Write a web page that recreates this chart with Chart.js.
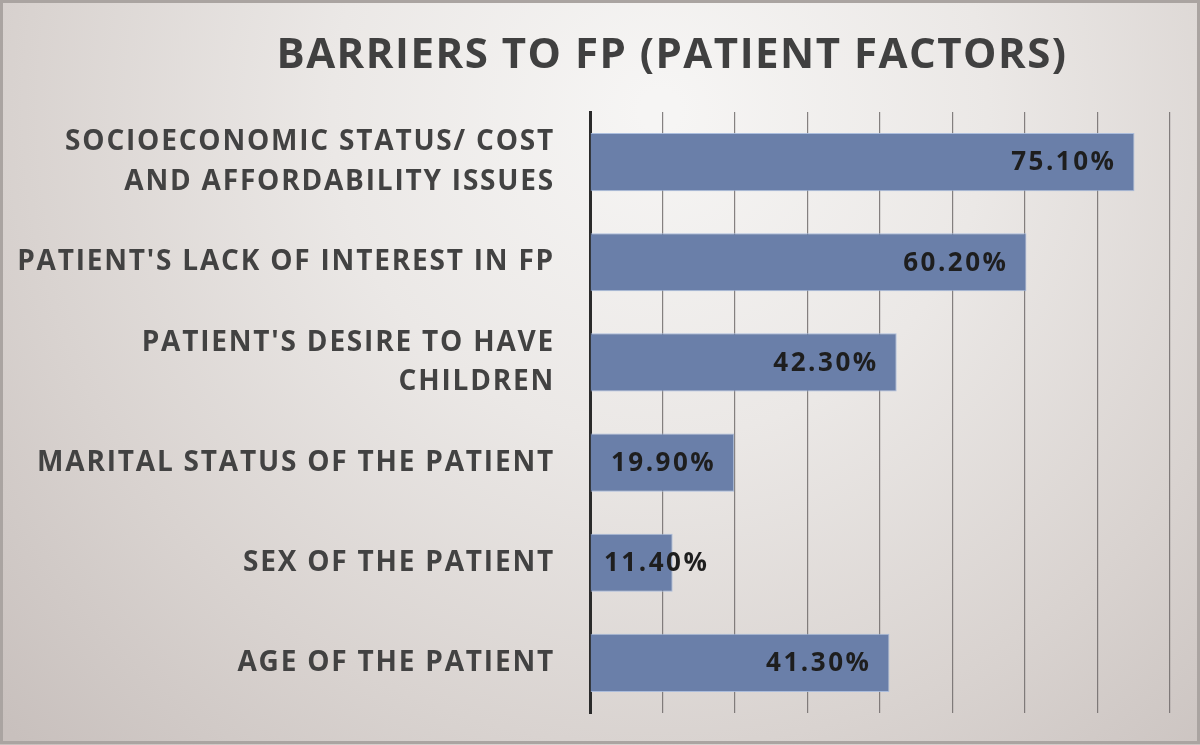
<!DOCTYPE html>
<html>
<head>
<meta charset="utf-8">
<script src="https://cdn.jsdelivr.net/npm/chart.js@4/dist/chart.umd.min.js"></script>
<style>
  html, body { margin: 0; padding: 0; background: #e2dedc; }
  #wrap { width: 1200px; height: 745px; }
</style>
</head>
<body>
<div id="wrap"><canvas id="c" width="1200" height="745"></canvas></div>
<script>
// ---- data ----
const chartTitle = "BARRIERS TO FP (PATIENT FACTORS)";
const categories = [
  ["SOCIOECONOMIC STATUS/ COST", "AND AFFORDABILITY ISSUES"],
  "PATIENT'S LACK OF INTEREST IN FP",
  ["PATIENT'S DESIRE TO HAVE", "CHILDREN"],
  "MARITAL STATUS OF THE PATIENT",
  "SEX OF THE PATIENT",
  "AGE OF THE PATIENT"
];
const values = [75.1, 60.2, 42.3, 19.9, 11.4, 41.3];
const axisMin = 0;
const axisMax = 80;
const axisStep = 10;

const FONT = "'Open Sans', 'DejaVu Sans', sans-serif";
const TICK_SPACING = '1.8px';

const bgPlugin = {
  id: 'bg',
  beforeLayout(chart) { chart.ctx.letterSpacing = TICK_SPACING; },
  beforeDraw(chart) {
    const ctx = chart.ctx;
    const w = chart.width, h = chart.height;
    ctx.save();
    const g = ctx.createRadialGradient(660, 110, 20, 660, 110, 900);
    g.addColorStop(0, '#f6f5f4');
    g.addColorStop(0.35, '#ebe8e6');
    g.addColorStop(0.7, '#d9d3d0');
    g.addColorStop(1, '#c8c0bd');
    ctx.fillStyle = g;
    ctx.fillRect(0, 0, w, h);
    ctx.strokeStyle = '#aaa4a1';
    ctx.lineWidth = 3;
    ctx.strokeRect(1.5, 1.5, w - 3, h - 4);
    ctx.restore();
    ctx.letterSpacing = TICK_SPACING;
  }
};

const titlePlugin = {
  id: 'customTitle',
  afterDraw(chart) {
    const ctx = chart.ctx;
    ctx.save();
    ctx.letterSpacing = '1.5px';
    ctx.font = "bold 42px " + FONT;
    ctx.fillStyle = '#404040';
    ctx.textAlign = 'center';
    ctx.textBaseline = 'middle';
    ctx.fillText(chartTitle, 672, 56);
    ctx.restore();
  }
};

const labelPlugin = {
  id: 'valueLabels',
  afterDatasetsDraw(chart) {
    const ctx = chart.ctx;
    const meta = chart.getDatasetMeta(0);
    const x0 = chart.scales.x.getPixelForValue(0);
    ctx.save();
    ctx.letterSpacing = '2.5px';
    ctx.font = "bold 26px " + FONT;
    ctx.fillStyle = '#1e1e1e';
    ctx.textBaseline = 'middle';
    meta.data.forEach((bar, i) => {
      const txt = values[i].toFixed(2) + '%';
      const tw = ctx.measureText(txt).width;
      const bw = bar.x - x0;
      if (tw + 30 <= bw) {
        ctx.textAlign = 'right';
        ctx.fillText(txt, bar.x - 18, bar.y + 1);
      } else {
        ctx.textAlign = 'left';
        ctx.fillText(txt, x0 + 14, bar.y + 1);
      }
    });
    ctx.restore();
  }
};

new Chart(document.getElementById('c'), {
  type: 'bar',
  data: {
    labels: categories,
    datasets: [{
      data: values,
      backgroundColor: '#6a7fa9',
      borderColor: 'rgba(165,185,220,0.9)',
      borderWidth: 1,
      borderSkipped: 'left',
      categoryPercentage: 1.0,
      barPercentage: 0.58
    }]
  },
  options: {
    indexAxis: 'y',
    responsive: false,
    animation: false,
    devicePixelRatio: 1,
    layout: { padding: { top: 112, bottom: 32, left: 0, right: 30 } },
    plugins: {
      legend: { display: false },
      title: { display: false },
      tooltip: { enabled: false }
    },
    scales: {
      x: {
        min: axisMin,
        max: axisMax,
        ticks: { display: false, stepSize: axisStep },
        grid: { color: 'rgba(105,100,100,0.8)', lineWidth: 1.2, drawTicks: false },
        border: { display: false },
        afterFit(scale) { scale.height = 0; scale.paddingLeft = 0; scale.paddingRight = 0; }
      },
      y: {
        grid: { display: false, drawTicks: false },
        border: { display: true, color: '#2a2a2a', width: 3 },
        ticks: {
          color: '#424242',
          padding: 35,
          font: { family: FONT, size: 28, weight: 'bold', lineHeight: 1.42 }
        },
        afterFit(scale) { scale.width = 590; scale.paddingTop = 0; scale.paddingBottom = 0; }
      }
    }
  },
  plugins: [bgPlugin, titlePlugin, labelPlugin]
});
</script>
</body>
</html>
